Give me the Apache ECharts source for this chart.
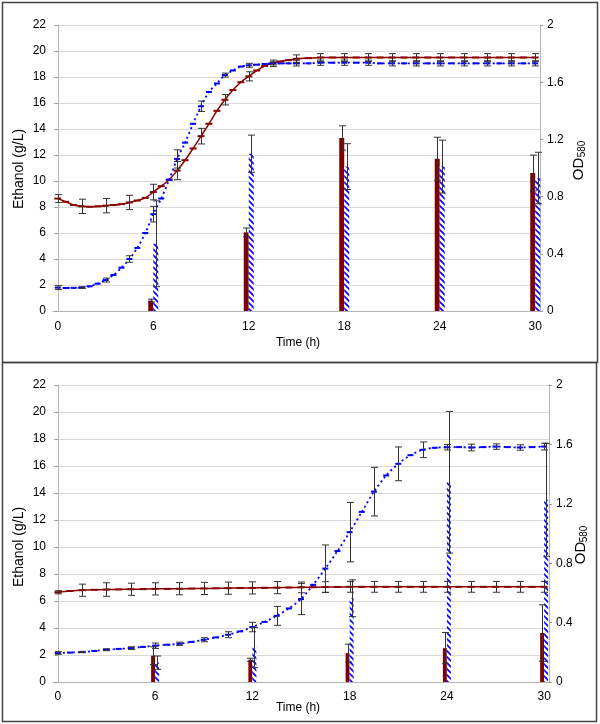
<!DOCTYPE html>
<html>
<head>
<meta charset="utf-8">
<script src="https://cdn.jsdelivr.net/npm/echarts@6/dist/echarts.min.js"></script>
<style>
  html, body { margin: 0; padding: 0; background: #fff; }
  #main { width: 600px; height: 724px; }
</style>
</head>
<body>
<div id="main"></div>
<script>
// x ticks and sampling times (h)
var xTicks = [0, 6, 12, 18, 24, 30];
var barTimes = [6, 12, 18, 24, 30];
var errTimes = [0, 1.5, 3, 4.5, 6, 7.5, 9, 10.5, 12, 13.5, 15, 16.5, 18, 19.5, 21, 22.5, 24, 25.5, 27, 28.5, 30];

// upper panel - ethanol lines (g/L)
var timesTop = [0, 0.5, 1, 1.5, 2, 2.5, 3, 3.5, 4, 4.5, 5, 5.5, 6, 6.5, 7, 7.5, 8, 8.5, 9, 9.5, 10, 10.5, 11, 11.5, 12, 12.5, 13, 13.5, 14, 14.5, 15,
  15.75, 16.5, 17.25, 18, 18.75, 19.5, 20.25, 21, 21.75, 22.5, 23.25, 24, 24.75, 25.5, 26.25, 27, 27.75, 28.5, 29.25, 30];
var redTop = [8.65, 8.4, 8.15, 8.05, 8.02, 8.05, 8.1, 8.15, 8.22, 8.35, 8.5, 8.7, 9.15, 9.6, 10.1, 10.8, 11.6, 12.5, 13.45, 14.4, 15.4, 16.25, 17.0, 17.6, 18.05, 18.5, 18.85, 19.05, 19.2, 19.3, 19.4,
  19.45, 19.5, 19.5, 19.5, 19.5, 19.5, 19.5, 19.5, 19.5, 19.5, 19.5, 19.5, 19.5, 19.5, 19.5, 19.5, 19.5, 19.5, 19.5, 19.5];
var blueTop = [1.8, 1.77, 1.78, 1.8, 1.9, 2.1, 2.38, 2.77, 3.33, 4.0, 4.85, 6.0, 7.45, 8.65, 10.1, 11.7, 12.95, 14.4, 15.75, 16.85, 17.5, 18.15, 18.5, 18.8, 18.9, 18.95, 19.0, 19.05, 19.05, 19.05, 19.05,
  19.05, 19.1, 19.1, 19.1, 19.1, 19.1, 19.05, 19.05, 19.05, 19.05, 19.05, 19.05, 19.05, 19.05, 19.05, 19.05, 19.05, 19.05, 19.05, 19.05];
var redErrTop = [0.3, 0.55, 0.55, 0.55, 0.6, 0.7, 0.6, 0.4, 0.35, 0.25, 0.3, 0.3, 0.3, 0.3, 0.3, 0.3, 0.3, 0.3, 0.3, 0.3, 0.3];
var blueErrTop = [0.15, 0.06, 0.15, 0.25, 0.6, 0.7, 0.4, 0.15, 0.15, 0.12, 0.2, 0.2, 0.2, 0.2, 0.2, 0.2, 0.2, 0.2, 0.2, 0.2, 0.2];
// upper panel - OD580 bars
var redBarTop = [0.073, 0.55, 1.21, 1.065, 0.965];
var redBarErrTop = [0.01, 0.03, 0.085, 0.15, 0.125];
var hatchBarTop = [0.47, 1.10, 1.01, 1.01, 0.93];
var hatchBarErrTop = [0.30, 0.13, 0.16, 0.185, 0.18];

// lower panel
var timesBot = [0, 0.75, 1.5, 2.25, 3, 3.75, 4.5, 5.25, 6, 6.75, 7.5, 8.25, 9, 9.75, 10.5, 11.25, 12, 12.75, 13.5, 14.25, 15,
  15.75, 16.5, 17.25, 18, 18.75, 19.5, 20.25, 21, 21.75, 22.5, 23.25, 24, 24.75, 25.5, 26.25, 27, 27.75, 28.5, 29.25, 30];
var redBot = [6.65, 6.74, 6.8, 6.83, 6.85, 6.86, 6.87, 6.88, 6.9, 6.9, 6.91, 6.92, 6.93, 6.94, 6.95, 6.96, 6.97, 6.98, 6.99, 7.0, 7.01,
  7.02, 7.03, 7.04, 7.05, 7.05, 7.05, 7.05, 7.05, 7.05, 7.05, 7.05, 7.05, 7.05, 7.05, 7.05, 7.05, 7.05, 7.05, 7.05, 7.05];
var blueBot = [2.15, 2.18, 2.22, 2.3, 2.39, 2.45, 2.51, 2.6, 2.69, 2.76, 2.83, 2.97, 3.13, 3.3, 3.5, 3.75, 4.07, 4.45, 4.9, 5.45, 6.14,
  7.2, 8.4, 9.7, 11.1, 12.6, 14.1, 15.3, 16.16, 16.8, 17.2, 17.35, 17.39, 17.4, 17.37, 17.4, 17.44, 17.4, 17.37, 17.4, 17.44];
var redErrBot = [0.12, 0.45, 0.5, 0.45, 0.45, 0.45, 0.45, 0.45, 0.45, 0.45, 0.4, 0.4, 0.4, 0.4, 0.4, 0.4, 0.4, 0.4, 0.4, 0.4, 0.4];
var blueErrBot = [0.1, 0.05, 0.07, 0.1, 0.2, 0.12, 0.15, 0.22, 0.35, 0.7, 1.15, 1.75, 2.2, 1.8, 1.25, 0.58, 0.2, 0.25, 0.2, 0.2, 0.25];
var redBarBot = [0.177, 0.15, 0.195, 0.228, 0.33];
var redBarErrBot = [0.06, 0.01, 0.06, 0.105, 0.19];
var hatchBarBot = [0.13, 0.232, 0.564, 1.345, 1.227];
var hatchBarErrBot = [0.045, 0.135, 0.124, 0.477, 0.38];

var FONT = 'Liberation Sans, Arial, sans-serif';
var RED = '#8b0000';
var BLUE = '#0000ff';

// diagonal blue hatch
function hatchPattern() {
  var c = document.createElement('canvas');
  c.width = 6; c.height = 6;
  var g = c.getContext('2d');
  g.fillStyle = '#fff';
  g.fillRect(0, 0, 6, 6);
  g.strokeStyle = BLUE;
  g.lineWidth = 1.6;
  g.beginPath();
  g.moveTo(-1, -1); g.lineTo(7, 7);
  g.moveTo(-1, 5); g.lineTo(1, 7);
  g.moveTo(5, -1); g.lineTo(7, 1);
  g.stroke();
  return { image: c, repetition: 'repeat' };
}

function pairs(xs, ys) {
  return xs.map(function (x, i) { return [x, ys[i]]; });
}
function errData(xs, ts, vs, es) {
  return es.map(function (e, i) {
    var v = vs[ts.indexOf(xs[i])];
    return [xs[i], v - e, v + e];
  });
}
function barErrData(xs, vs, es) {
  return es.map(function (e, i) { return [xs[i], vs[i] - e, vs[i] + e]; });
}

function ebRender(dx) {
  return function (params, api) {
    var t = api.value(0);
    var p1 = api.coord([t, api.value(2)]);
    var p2 = api.coord([t, api.value(1)]);
    var x = Math.round(p1[0] + dx) + 0.5;
    var st = { stroke: '#333', lineWidth: 1 };
    return {
      type: 'group',
      children: [
        { type: 'line', shape: { x1: x, y1: p1[1], x2: x, y2: p2[1] }, style: st },
        { type: 'line', shape: { x1: x - 3.5, y1: p1[1], x2: x + 3.5, y2: p1[1] }, style: st },
        { type: 'line', shape: { x1: x - 3.5, y1: p2[1], x2: x + 3.5, y2: p2[1] }, style: st }
      ]
    };
  };
}

function ebSeries(data, xi, yi, dx) {
  return {
    type: 'custom', xAxisIndex: xi, yAxisIndex: yi, z: 5, silent: true,
    renderItem: ebRender(dx), encode: { x: 0, y: [1, 2] }, data: data
  };
}

function xAxisOf(gi, margin) {
  return {
    type: 'value', gridIndex: gi, min: -0.3, max: 30.3,
    axisLine: { show: true, lineStyle: { color: '#b4b4b4' } },
    axisTick: { show: false },
    splitLine: { show: false },
    axisLabel: { customValues: xTicks, color: '#000', fontSize: 12, fontFamily: FONT, margin: margin }
  };
}
function leftAxis(gi) {
  return {
    type: 'value', gridIndex: gi, min: 0, max: 22, interval: 2, position: 'left',
    axisLine: { show: true, lineStyle: { color: '#b4b4b4' } },
    axisTick: { show: true, length: 3, lineStyle: { color: '#999' } },
    splitLine: { show: true, lineStyle: { color: '#d9d9d9' } },
    axisLabel: { color: '#000', fontSize: 12, fontFamily: FONT, margin: 7 }
  };
}
function rightAxis(gi, margin) {
  return {
    type: 'value', gridIndex: gi, min: 0, max: 2, interval: 0.4, position: 'right',
    axisLine: { show: true, lineStyle: { color: '#b4b4b4' } },
    axisTick: { show: true, length: 3, lineStyle: { color: '#999' } },
    splitLine: { show: false },
    axisLabel: { color: '#000', fontSize: 12, fontFamily: FONT, margin: margin }
  };
}

function panelSeries(xi, yl, yr, times, red, blue, redErr, blueErr, rb, rbe, hb, hbe, bw) {
  var hatch = hatchPattern();
  return [
    { type: 'bar', xAxisIndex: xi, yAxisIndex: yr, barWidth: bw, barGap: '0%', z: 2,
      itemStyle: { color: '#800000' }, data: pairs(barTimes, rb) },
    { type: 'bar', xAxisIndex: xi, yAxisIndex: yr, barWidth: bw, barGap: '0%', z: 2,
      itemStyle: { color: hatch }, data: pairs(barTimes, hb) },
    { type: 'line', xAxisIndex: xi, yAxisIndex: yl, smooth: 0.3, z: 3, showAllSymbol: true,
      symbol: 'rect', symbolSize: [7, 2],
      lineStyle: { color: RED, width: 1.5 }, itemStyle: { color: RED },
      data: pairs(times, red) },
    { type: 'line', xAxisIndex: xi, yAxisIndex: yl, smooth: 0.3, z: 3, showAllSymbol: true,
      symbol: 'rect', symbolSize: [6, 2],
      lineStyle: { color: BLUE, width: 1.8, type: [2, 3] }, itemStyle: { color: BLUE },
      data: pairs(times, blue) },
    ebSeries(errData(errTimes, times, red, redErr), xi, yl, 0),
    ebSeries(errData(errTimes, times, blue, blueErr), xi, yl, 0),
    ebSeries(barErrData(barTimes, rb, rbe), xi, yr, -bw / 2),
    ebSeries(barErrData(barTimes, hb, hbe), xi, yr, bw / 2)
  ];
}

function vtext(txt, x, y, size) {
  return { type: 'text', x: x, y: y, rotation: Math.PI / 2, z: 10,
    style: { text: txt, fill: '#000', font: size + 'px ' + FONT, align: 'center', verticalAlign: 'middle' } };
}
function htext(txt, x, y) {
  return { type: 'text', x: x, y: y, z: 10,
    style: { text: txt, fill: '#000', font: '12px ' + FONT, align: 'center', verticalAlign: 'middle' } };
}

var chart = echarts.init(document.getElementById('main'), null, { renderer: 'canvas' });
chart.setOption({
  animation: false,
  backgroundColor: '#fff',
  grid: [
    { left: 53, top: 25, width: 487, height: 286 },
    { left: 53, top: 385, width: 496, height: 297 }
  ],
  xAxis: [xAxisOf(0, 10), xAxisOf(1, 9)],
  yAxis: [leftAxis(0), rightAxis(0, 7), leftAxis(1), rightAxis(1, 7)],
  series: [].concat(
    panelSeries(0, 0, 1, timesTop, redTop, blueTop, redErrTop, blueErrTop,
      redBarTop, redBarErrTop, hatchBarTop, hatchBarErrTop, 5),
    panelSeries(1, 2, 3, timesBot, redBot, blueBot, redErrBot, blueErrBot,
      redBarBot, redBarErrBot, hatchBarBot, hatchBarErrBot, 4)
  ),
  graphic: [
    { type: 'rect', shape: { x: 2.5, y: 2.5, width: 595, height: 360 }, z: 0,
      style: { fill: 'none', stroke: '#444', lineWidth: 1.5 } },
    { type: 'rect', shape: { x: 2.5, y: 362.5, width: 594, height: 359 }, z: 0,
      style: { fill: 'none', stroke: '#444', lineWidth: 1.5 } },
    vtext('Ethanol (g/L)', 19, 169, 14),
    vtext('Ethanol (g/L)', 19, 547, 14),
    vtext('OD', 579, 169, 15),
    vtext('580', 582, 149, 10),
    vtext('OD', 581, 553, 15),
    vtext('580', 584, 534, 10),
    htext('Time (h)', 298, 343),
    htext('Time (h)', 298, 708)
  ]
});
</script>
</body>
</html>
